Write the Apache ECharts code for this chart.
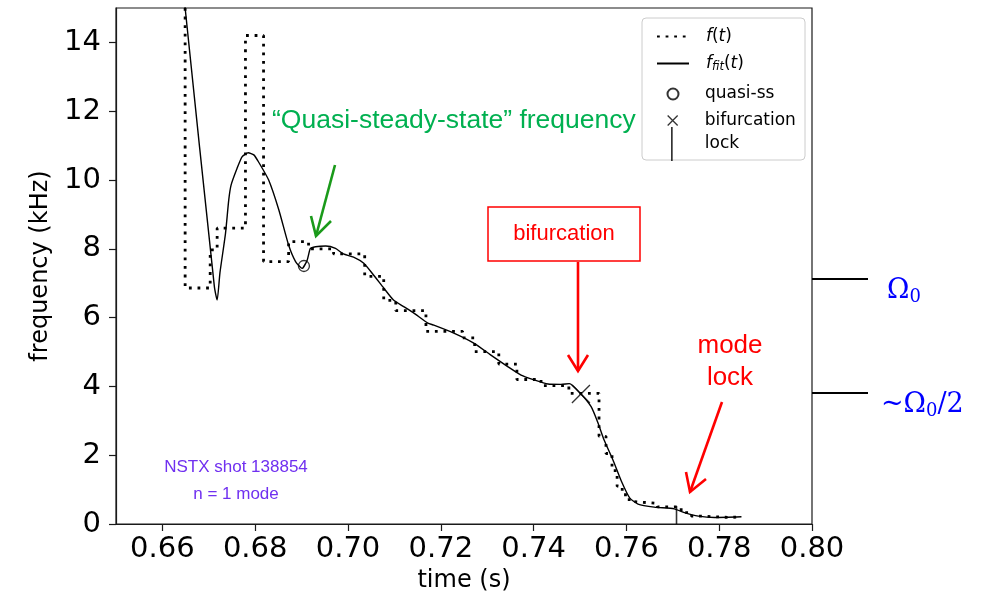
<!DOCTYPE html>
<html>
<head>
<meta charset="utf-8">
<script src="https://cdn.jsdelivr.net/npm/echarts@6/dist/echarts.min.js"></script>
<style>
  html, body { margin: 0; padding: 0; background: #fff; }
  #chart { width: 984px; height: 598px; }
</style>
</head>
<body>
<div id="chart"></div>
<script>
// Measured rotation frequency f(t): each value holds until the next time stamp
const stepTime = [0.6649, 0.6649, 0.6703, 0.6718, 0.6779, 0.6818, 0.6872, 0.6915, 0.6969, 0.7036,
                  0.7077, 0.7103, 0.7168, 0.7247, 0.7273, 0.7325, 0.7364, 0.7416, 0.7476, 0.7541,
                  0.7556, 0.7569, 0.7580, 0.7591, 0.7606, 0.7617, 0.7667, 0.7718, 0.7740, 0.7762,
                  0.7822, 0.7848];
const stepFreq = [16, 6.86, 7.97, 8.6, 14.2, 7.63, 8.21, 8.0, 7.85, 7.2,
                  6.5, 6.2, 5.6, 5.41, 5.01, 4.65, 4.2, 4.02, 3.8, 2.55,
                  2.05, 1.55, 1.1, 0.85, 0.65, 0.6, 0.5, 0.33, 0.23, 0.19,
                  0.21, 0.21];

// Fitted frequency f_fit(t)
const fitTime = [0.6646, 0.6649, 0.6712, 0.6718, 0.6724, 0.6736, 0.6743, 0.6748, 0.6761, 0.6772,
                 0.6785, 0.6797, 0.6807, 0.6829, 0.6851, 0.6872, 0.6887, 0.6901, 0.6912, 0.6919,
                 0.6930, 0.6952, 0.6973, 0.6990, 0.7012, 0.7034, 0.7055, 0.7077, 0.7098, 0.7120,
                 0.7142, 0.7172, 0.7185, 0.7228, 0.7271, 0.7308, 0.7345, 0.7373, 0.7401, 0.7431,
                 0.7459, 0.7477, 0.7502, 0.7524, 0.7539, 0.7552, 0.7571, 0.7589, 0.7607, 0.7625,
                 0.7660, 0.7703, 0.7725, 0.7755, 0.7790, 0.7848];
const fitFreq = [15.6, 15.0, 6.9, 6.51, 7.3, 8.45, 9.42, 9.85, 10.34, 10.68,
                 10.79, 10.73, 10.53, 10.0, 9.13, 8.11, 7.63, 7.43, 7.67, 8.01,
                 8.06, 8.08, 8.01, 7.85, 7.76, 7.58, 7.24, 6.86, 6.51, 6.32,
                 6.13, 5.84, 5.78, 5.55, 5.26, 4.91, 4.57, 4.33, 4.19, 4.07,
                 4.06, 4.08, 3.78, 3.41, 2.93, 2.44, 1.86, 1.25, 0.76, 0.58,
                 0.49, 0.44, 0.33, 0.23, 0.19, 0.21];

// Event markers [time, frequency]
const quasiSS = [0.6905, 7.5];
const bifurcationPt = [0.7502, 3.78];
const lockPt = [0.7708, 0];

// Reference levels shown at the right edge
const omega0 = 7.12;
const halfOmega0 = 3.81;

// Axes
const xMin = 0.65, xMax = 0.80;
const xTicks = [0.66, 0.68, 0.70, 0.72, 0.74, 0.76, 0.78, 0.80];
const yMin = 0, yMax = 15;
const yTicks = [0, 2, 4, 6, 8, 10, 12, 14];

const zip = (a, b) => a.map((v, i) => [v, b[i]]);

const FONT = 'DejaVu Sans';
const SANS = 'Liberation Sans';
const AXIS_COLOR = '#1a1a1a';

const legendText = 17;
const legendRich = {
  i: { fontFamily: FONT, fontStyle: 'italic', fontSize: legendText, color: '#000' },
  n: { fontFamily: FONT, fontSize: legendText, color: '#000' },
  sub: { fontFamily: FONT, fontStyle: 'italic', fontSize: 11.5, color: '#000', padding: [7, 0, 0, 0] }
};
function legendLabel(name) {
  if (name === 'f(t)') return '{i|f}{n|(}{i|t}{n|)}';
  if (name === 'f_fit(t)') return '{i|f}{sub|fit}{n|(}{i|t}{n|)}';
  return '{n|' + name + '}';
}
function legendAt(item, left, centerY, itemHeight, textPad) {
  return {
    show: true,
    orient: 'vertical',
    left: left,
    top: centerY - itemHeight / 2,
    itemWidth: 32,
    itemHeight: itemHeight,
    padding: 0,
    selectedMode: false,
    data: [item],
    formatter: legendLabel,
    textStyle: { fontFamily: FONT, fontSize: legendText, color: '#000', rich: legendRich, padding: [0, 0, 0, textPad] }
  };
}

const chart = echarts.init(document.getElementById('chart'), null, { renderer: 'canvas' });

const option = {
  animation: false,
  backgroundColor: '#fff',
  grid: {
    left: 116, right: 172, top: 8, bottom: 74,
    show: true, borderColor: AXIS_COLOR, borderWidth: 1.2, backgroundColor: 'transparent'
  },
  xAxis: {
    type: 'value', min: xMin, max: xMax,
    name: 'time (s)', nameLocation: 'middle', nameGap: 42,
    nameTextStyle: { fontFamily: FONT, fontSize: 24, color: '#000' },
    axisLine: { show: true, onZero: false, lineStyle: { color: AXIS_COLOR, width: 1.2 } },
    axisTick: { show: true, length: 7, lineStyle: { color: AXIS_COLOR, width: 1.2 }, customValues: xTicks },
    axisLabel: {
      fontFamily: FONT, fontSize: 29, color: '#000', margin: 11,
      customValues: xTicks, formatter: v => v.toFixed(2)
    },
    splitLine: { show: false }
  },
  yAxis: {
    type: 'value', min: yMin, max: yMax,
    name: 'frequency (kHz)', nameLocation: 'middle', nameGap: 62, nameRotate: 90,
    nameTextStyle: { fontFamily: FONT, fontSize: 24, color: '#000' },
    axisLine: { show: true, onZero: false, lineStyle: { color: AXIS_COLOR, width: 1.2 } },
    axisTick: { show: true, length: 7, lineStyle: { color: AXIS_COLOR, width: 1.2 }, customValues: yTicks },
    axisLabel: {
      fontFamily: FONT, fontSize: 29, color: '#000', margin: 15,
      customValues: yTicks, formatter: v => String(v)
    },
    splitLine: { show: false }
  },
  legend: [
    legendAt({ name: 'f(t)', itemStyle: { opacity: 0 } }, 656, 35, 14, 12),
    legendAt({ name: 'f_fit(t)', itemStyle: { opacity: 0 } }, 656, 62, 14, 12),
    legendAt({ name: 'quasi-ss' }, 666.5, 91, 11, 11),
    legendAt({ name: 'bifurcation', itemStyle: { borderWidth: 1.3 } }, 667, 117, 10, 11),
    legendAt({ name: 'lock', icon: 'path://M0,0L1,0L1,20L0,20Z' }, 671, 144, 34, 12)
  ],
  series: [
    {
      name: 'f(t)', type: 'line', step: 'end', data: zip(stepTime, stepFreq),
      symbol: 'none', clip: true, z: 2,
      itemStyle: { color: '#000' },
      lineStyle: { color: '#000', width: 2.8, type: [2.8, 5.8], cap: 'butt' }
    },
    {
      name: 'f_fit(t)', type: 'line', data: zip(fitTime, fitFreq),
      symbol: 'none', smooth: 0.2, clip: true, z: 3,
      itemStyle: { color: '#000' },
      lineStyle: { color: '#000', width: 1.4 }
    },
    {
      name: 'quasi-ss', type: 'scatter', data: [quasiSS],
      symbol: 'circle', symbolSize: 11, z: 4,
      itemStyle: { color: 'rgba(255,255,255,0)', borderColor: '#000', borderWidth: 1.3 }
    },
    {
      name: 'bifurcation', type: 'scatter', data: [bifurcationPt],
      symbol: 'path://M0,0L10,10M10,0L0,10', symbolSize: 18, z: 4,
      itemStyle: { color: 'rgba(255,255,255,0)', borderColor: '#000', borderWidth: 1.3 }
    },
    {
      name: 'lock', type: 'scatter', data: [lockPt],
      symbol: 'path://M0,0L1,0L1,20L0,20Z', symbolSize: [1.6, 18], symbolKeepAspect: false,
      symbolOffset: [0, -9], z: 4,
      itemStyle: { color: '#000' }
    }
  ]
};

chart.setOption(option);

// Annotations: legend frame, call-out texts, arrows and reference levels
const px = (t, f) => chart.convertToPixel({ gridIndex: 0 }, [t, f]);
const rightX = px(xMax, 0)[0];
const yOmega = px(xMax, omega0)[1];
const yHalf = px(xMax, halfOmega0)[1];

const GREEN_TEXT = '#00B050';
const GREEN_ARROW = '#1A9A1A';
const RED = '#FF0000';
const PURPLE = '#7030F0';
const BLUE = '#0000FF';

function arrow(x1, y1, x2, y2, w1, w2, color) {
  return [
    { type: 'polyline', shape: { points: [[x1, y1], [x2, y2]] }, style: { stroke: color, lineWidth: 2.6, fill: null }, z: 10 },
    { type: 'polyline', shape: { points: [w1, [x2, y2], w2] }, style: { stroke: color, lineWidth: 2.6, fill: null }, z: 10 }
  ];
}

const omegaRich = {
  o: { fontFamily: 'DejaVu Serif', fontSize: 27, fill: BLUE },
  s: { fontFamily: 'DejaVu Serif', fontSize: 18, fill: BLUE, padding: [12, 0, 0, 0] }
};

chart.setOption({
  graphic: [
    { type: 'rect', shape: { x: 642, y: 18, width: 163, height: 142, r: 4 },
      style: { fill: 'rgba(255,255,255,0.8)', stroke: '#cccccc', lineWidth: 1 }, z: 3 },

    { type: 'text', x: 272, y: 121, style: { text: '\u201CQuasi-steady-state\u201D frequency', fill: GREEN_TEXT,
      font: '26.5px "' + SANS + '"', verticalAlign: 'middle', textAlign: 'left' }, z: 10 },
    ...arrow(335, 165, 316, 236, [311, 216], [331, 221], GREEN_ARROW),

    { type: 'rect', shape: { x: 488, y: 207, width: 152, height: 54 },
      style: { fill: '#fff', stroke: RED, lineWidth: 1.5 }, z: 10 },
    { type: 'text', x: 564, y: 234, style: { text: 'bifurcation', fill: RED,
      font: '22px "' + SANS + '"', verticalAlign: 'middle', textAlign: 'center' }, z: 11 },
    ...arrow(578, 262, 578, 371, [568, 355], [588, 355], RED),

    { type: 'text', x: 730, y: 346, style: { text: 'mode', fill: RED,
      font: '26px "' + SANS + '"', verticalAlign: 'middle', textAlign: 'center' }, z: 10 },
    { type: 'text', x: 730, y: 378, style: { text: 'lock', fill: RED,
      font: '26px "' + SANS + '"', verticalAlign: 'middle', textAlign: 'center' }, z: 10 },
    ...arrow(722, 402, 690, 492, [686, 472], [706, 479], RED),

    { type: 'text', x: 236, y: 467, style: { text: 'NSTX shot 138854', fill: PURPLE,
      font: '17px "' + SANS + '"', verticalAlign: 'middle', textAlign: 'center' }, z: 10 },
    { type: 'text', x: 236, y: 494, style: { text: 'n = 1 mode', fill: PURPLE,
      font: '17px "' + SANS + '"', verticalAlign: 'middle', textAlign: 'center' }, z: 10 },

    { type: 'line', shape: { x1: rightX, y1: yOmega, x2: rightX + 56, y2: yOmega },
      style: { stroke: '#000', lineWidth: 2 }, z: 10 },
    { type: 'line', shape: { x1: rightX, y1: yHalf, x2: rightX + 56, y2: yHalf },
      style: { stroke: '#000', lineWidth: 2 }, z: 10 },
    { type: 'text', x: 887, y: yOmega + 12, style: { text: '{o|\u03A9}{s|0}', rich: omegaRich,
      verticalAlign: 'middle', textAlign: 'left' }, z: 10 },
    { type: 'text', x: 881, y: yHalf + 12, style: { text: '{o|~\u03A9}{s|0}{o|/2}', rich: omegaRich,
      verticalAlign: 'middle', textAlign: 'left' }, z: 10 }
  ]
});
</script>
</body>
</html>
